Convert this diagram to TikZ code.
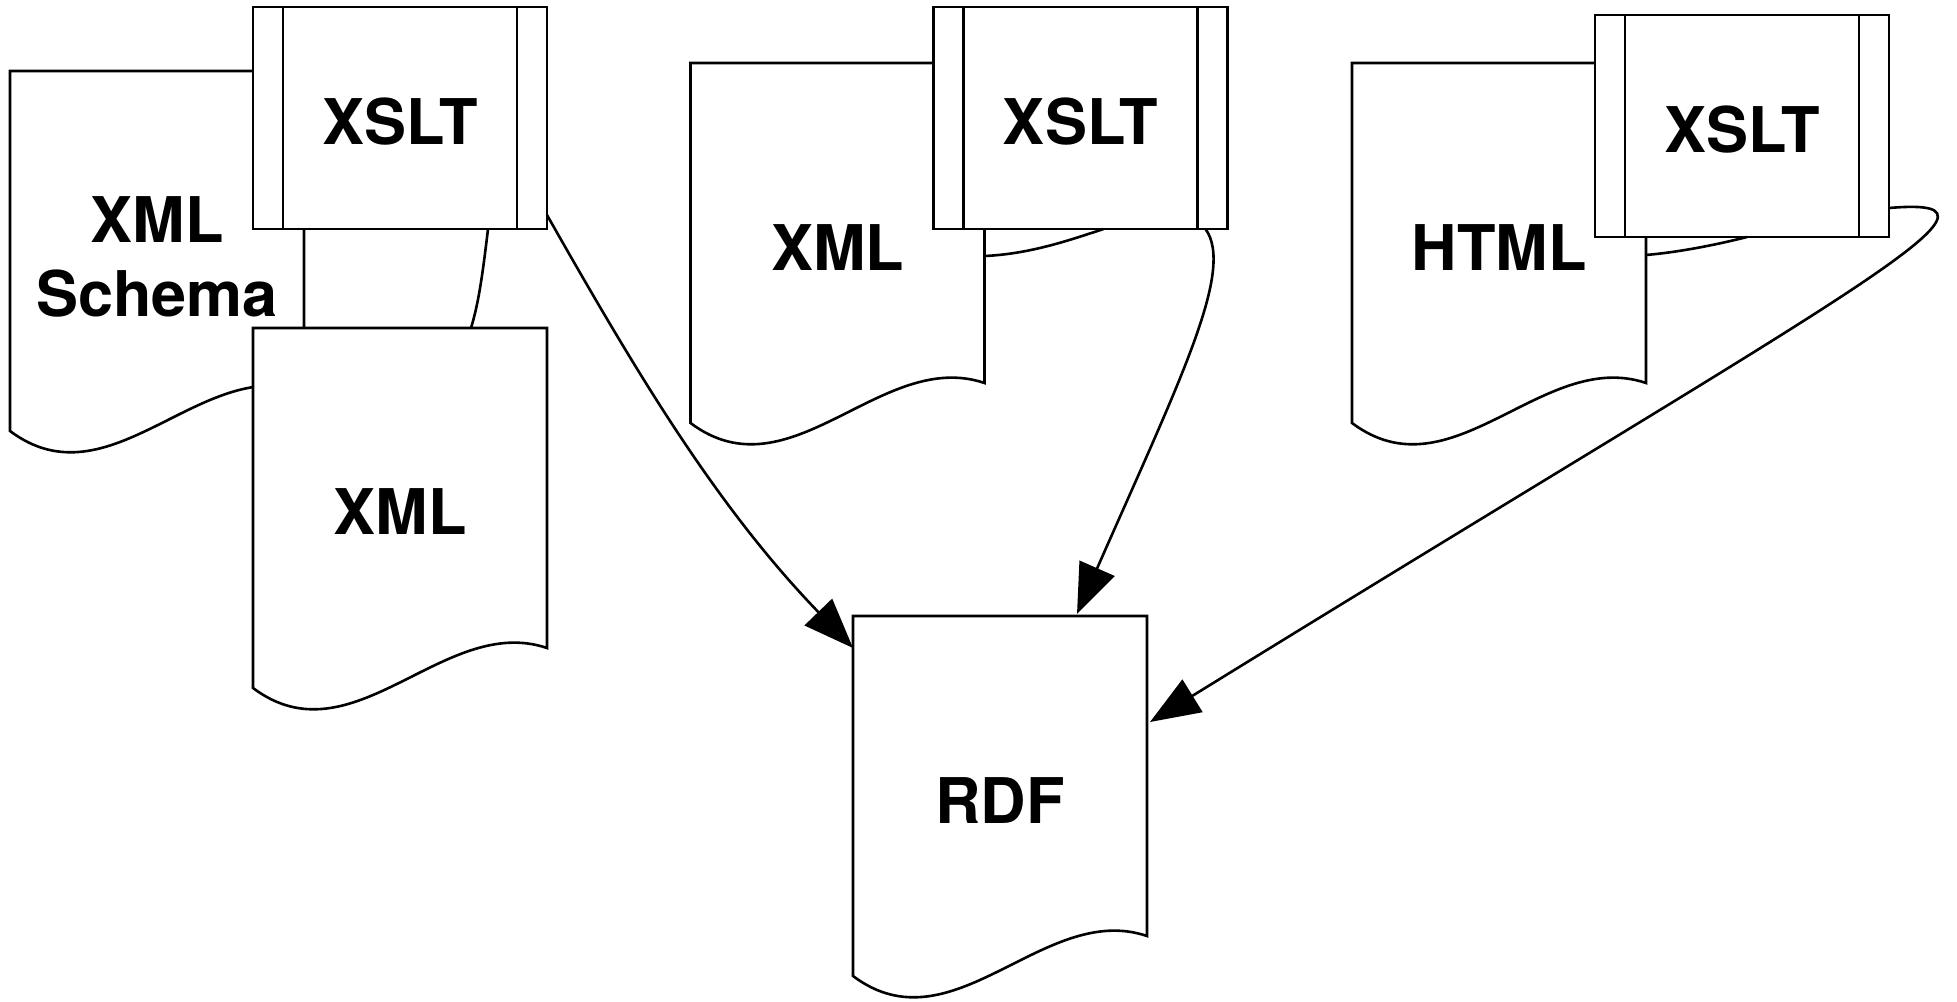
\documentclass[tikz,border=0pt]{standalone}
\usepackage{fontspec}
\setmainfont{TeX Gyre Heros}
\usetikzlibrary{calc,arrows.meta}
\newcommand\docoutline[1]{%
  \draw[docline,fill=white] (#1.south west) -- (#1.north west) -- (#1.north east)
    -- ($(#1.south east)+(0,-40)$)
    .. controls ($(#1.south east)+(-103,-75)$) and ($(#1.south west)+(100,75)$) .. (#1.south west) -- cycle;}
\newcommand\xsltbars[1]{%
  \draw[docline] ($(#1.north west)+(30,0)$) -- ($(#1.south west)+(30,0)$);
  \draw[docline] ($(#1.north east)+(-30,0)$) -- ($(#1.south east)+(-30,0)$);}
\begin{document}
\begin{tikzpicture}[x=0.5pt,y=-0.5pt,
  docline/.style={line width=1.3pt, line join=miter},
  docbox/.style={rectangle, minimum width=147pt, minimum height=180pt, inner sep=0pt, outer sep=0pt},
  xsltbox/.style={rectangle, draw, fill=white, line width=1.3pt, minimum width=147pt, minimum height=111pt, inner sep=0pt, outer sep=0pt},
  lbl/.style={font=\fontsize{31.5}{37}\selectfont\bfseries, align=center, inner sep=0pt},
  conn/.style={line width=1.3pt},
  arr/.style={conn, -{Triangle[length=25pt,width=19pt]}}]
\useasboundingbox (0,0) rectangle (1957,1001);

% XML Schema document (behind)
\node[docbox] (schema) at (157,251) {};
\docoutline{schema}
\node[lbl] (schematxt) at (157,257) {XML\\Schema};

% lower XML document
\node[docbox] (xmlA) at (400,508) {};
\docoutline{xmlA}
\node[lbl] (xmlAtxt) at (400,512) {XML};

% XSLT 1
\node[xsltbox] (x1) at (400,118) {};
\xsltbars{x1}
\node[lbl] (x1txt) at (400,122) {XSLT};

% middle XML document
\node[docbox] (xmlB) at (837.5,243) {};
\docoutline{xmlB}
\node[lbl] (xmlBtxt) at (837.5,248) {XML};

% XSLT 2
\node[xsltbox] (x2) at (1080.5,118) {};
\xsltbars{x2}
\node[lbl] (x2txt) at (1080.5,122) {XSLT};

% HTML document
\node[docbox] (html) at (1499,243) {};
\docoutline{html}
\node[lbl] (htmltxt) at (1499,248) {HTML};

% XSLT 3
\node[xsltbox] (x3) at (1742,126) {};
\xsltbars{x3}
\node[lbl] (x3txt) at (1742,130) {XSLT};

% RDF document
\node[docbox] (rdf) at (1000,796) {};
\docoutline{rdf}
\node[lbl] (rdftxt) at (1000,801) {RDF};

% connectors documents -> XSLT (visible parts only)
\draw[conn] ($(xmlA.north east)+(-76,0)$) .. controls (478,305) and (482,280) .. ($(x1.south east)+(-59,0)$);
\draw[conn] ($(xmlB.north east)+(0,193)$) .. controls (1030,254) and (1070,240) .. ($(x2.south west)+(170,0)$);
\draw[conn] ($(html.north east)+(0,192)$) .. controls (1680,252) and (1715,245) .. ($(x3.south west)+(152,0)$);

% connectors XSLT -> RDF
\draw[arr] ($(x1.south east)+(0,-14)$) .. controls (635,370) and (715,505) .. ($(rdf.north west)+(0,32)$);
\draw[arr] ($(x2.south east)+(-22,0)$) .. controls (1235,270) and (1180,380) .. ($(rdf.north west)+(224,-2)$);
\draw[arr] ($(x3.south east)+(0,-29)$) .. controls (2040,195) and (1850,290) .. ($(rdf.north east)+(3,106)$);
\end{tikzpicture}
\end{document}
